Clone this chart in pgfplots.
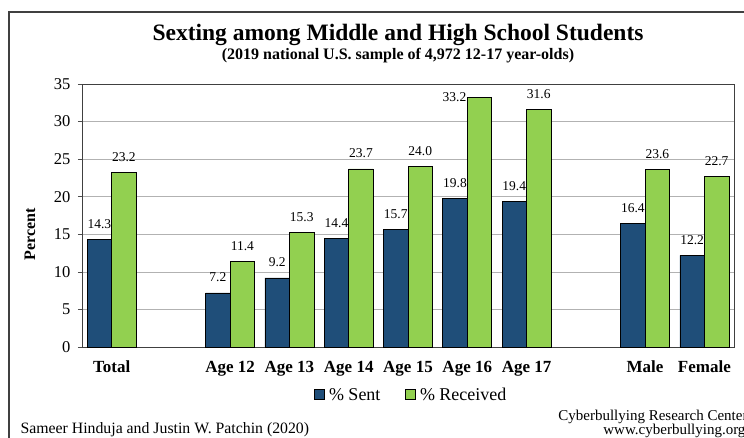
\documentclass[border=0pt]{standalone}
\usepackage{pgfplots}
\usepackage{pgfplotstable}
\pgfplotsset{compat=1.18}
\usepackage{fontspec}
\setmainfont{Liberation Serif}
\definecolor{sentblue}{HTML}{1F4E79}
\definecolor{recgreen}{HTML}{92D050}

\pgfplotstableread{
x y lx ly
0 14.3 0 11
2 7.2 0 11
3 9.2 0 11
4 14.4 0 11
5 15.7 0 11
6 19.8 0 11
7 19.4 0 11
9 16.4 0 11
10 12.2 0 11
}\sent
\pgfplotstableread{
x y lx ly
0 23.2 0 11
2 11.4 0 11
3 15.3 0 11
4 23.7 0 11
5 24.0 0 11
6 33.2 -25 -4
7 31.6 0 11
9 23.6 0 11
10 22.7 0 11
}\received

\begin{document}
\begin{tikzpicture}
\useasboundingbox (0pt,0pt) rectangle (744pt,437pt);
\clip (0pt,0pt) rectangle (744pt,437pt);
\draw[color=black!75, line width=1.2pt] (9pt,-20pt) rectangle (780pt,425pt);
\node[font=\fontsize{23.5}{25}\selectfont\bfseries] at (398pt,402pt) {Sexting among Middle and High School Students};
\node[font=\fontsize{16}{18}\selectfont\bfseries] at (398pt,381pt) {(2019 national U.S. sample of 4,972 12-17 year-olds)};
\node[font=\fontsize{16}{18}\selectfont\bfseries, rotate=90] at (30pt,203pt) {Percent};
\node[font=\fontsize{15.8}{17}\selectfont, anchor=base west] at (17pt,4pt) {Sameer Hinduja and Justin W. Patchin (2020)};
\node[font=\fontsize{15}{17}\selectfont, anchor=base east] at (751pt,17pt) {Cyberbullying Research Center};
\node[font=\fontsize{15}{17}\selectfont, anchor=base east] at (749pt,3pt) {www.cyberbullying.org};
\begin{axis}[
  at={(82pt,90pt)}, anchor=south west,
  scale only axis, width=652pt, height=263pt,
  xmin=-0.5, xmax=10.5, ymin=0, ymax=35,
  ytick={0,5,...,35},
  xtick={0,2,3,4,5,6,7,9,10},
  xticklabels={Total,Age 12,Age 13,Age 14,Age 15,Age 16,Age 17,Male,Female},
  xticklabel style={font=\fontsize{17}{19}\selectfont\bfseries, anchor=base, yshift=-21pt},
  yticklabel style={font=\fontsize{16.5}{18}\selectfont, xshift=-4pt},
  /pgf/number format/assume math mode=true,
  x tick style={draw=none},
  y tick style={black!70, line width=0.6pt},
  major tick length=4pt,
  tick align=outside, tick pos=left,
  ymajorgrids, grid style={black!30, line width=0.6pt},
  axis line style={black!75, line width=0.8pt},
  ybar=0pt, bar width=24.5pt,
  legend style={at={(0.5046,-0.183)}, anchor=center, draw=none, fill=none,
    legend columns=2, font=\rmfamily\fontsize{18}{20}\selectfont,
    /tikz/every odd column/.append style={column sep=3pt},
    /tikz/every even column/.append style={column sep=22pt}},
  legend image code/.code={\draw[#1, draw=black, line width=0.5pt] (0pt,-4pt) rectangle (10pt,6pt);},
  nodes near coords,
  nodes near coords style={font=\fontsize{13.5}{15}\selectfont, anchor=base, inner sep=0pt,
     xshift=\lx, yshift=\ly, /pgf/number format/.cd, fixed, fixed zerofill, precision=1},
  visualization depends on={\thisrow{lx} \as \lx},
  visualization depends on={\thisrow{ly} \as \ly},
]
\addplot[fill=sentblue, draw=black, line width=0.6pt] table[x=x,y=y] {\sent};
\addplot[fill=recgreen, draw=black, line width=0.6pt] table[x=x,y=y] {\received};
\legend{\% Sent, \% Received}
\end{axis}
\end{tikzpicture}
\end{document}
